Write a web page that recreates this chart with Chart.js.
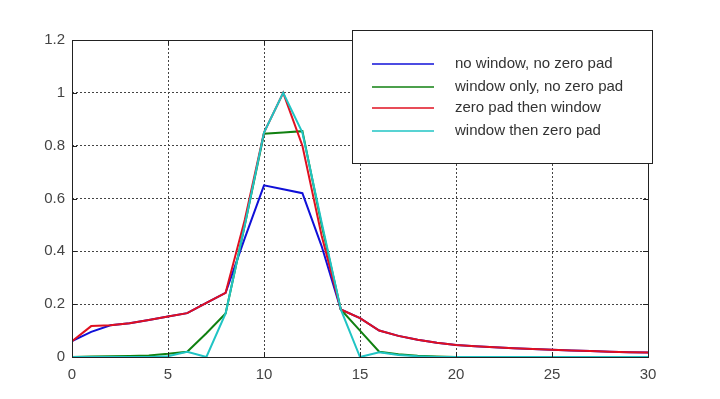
<!DOCTYPE html>
<html lang="en">
<head>
  <meta charset="UTF-8">
  <title>Window / zero pad comparison</title>
  <script src="https://cdn.jsdelivr.net/npm/chart.js"></script>
  <style>
    body { margin: 0; background: #fff; }
    #wrap { width: 720px; height: 399px; }
  </style>
</head>
<body>
<div id="wrap"><canvas id="chartCanvas" width="720" height="399"></canvas></div>
<script>
  // data
  const xs = [0,1,2,3,4,5,6,7,8,9,10,11,12,13,14,15,16,17,18,19,20,21,22,23,24,25,26,27,28,29,30];
  const noWindow   = [0.06,0.095,0.12,0.128,0.14,0.153,0.166,0.205,0.243,0.45,0.65,0.635,0.62,0.42,0.18,0.147,0.10,0.08,0.065,0.054,0.045,0.041,0.037,0.033,0.030,0.027,0.025,0.023,0.020,0.018,0.017];
  const windowOnly = [0,0.002,0.003,0.004,0.006,0.012,0.02,0.09,0.165,0.5,0.845,0.85,0.855,0.5,0.18,0.10,0.02,0.01,0.005,0.002,0,0,0,0,0,0,0,0,0,0,0];
  const padWindow  = [0.06,0.117,0.12,0.128,0.14,0.153,0.166,0.205,0.243,0.52,0.85,1.0,0.80,0.46,0.18,0.147,0.10,0.08,0.065,0.054,0.045,0.041,0.037,0.033,0.030,0.027,0.025,0.023,0.020,0.018,0.017];
  const windowPad  = [0,0,0,0,0,0.003,0.02,0,0.165,0.5,0.85,1.0,0.85,0.51,0.18,0,0.018,0.008,0.003,0,0,0,0,0,0,0,0,0,0,0,0];
  const seriesNames = ['no window, no zero pad', 'window only, no zero pad', 'zero pad then window', 'window then zero pad'];
  const seriesColors = ['#1010d8', '#108010', '#e01020', '#20c4c4'];
  const xTicks = [0, 5, 10, 15, 20, 25, 30];
  const yTicks = [0, 0.2, 0.4, 0.6, 0.8, 1, 1.2];

  const allSeries = [noWindow, windowOnly, padWindow, windowPad];

  const frame = {
    id: 'frame',
    afterDatasetsDraw(chart) {
      const ctx = chart.ctx;
      const a = chart.chartArea;
      const sx = chart.scales.x, sy = chart.scales.y;
      ctx.save();
      ctx.strokeStyle = '#222';
      ctx.lineWidth = 1;
      ctx.strokeRect(a.left + 0.5, a.top + 0.5, a.right - a.left, a.bottom - a.top);
      ctx.beginPath();
      xTicks.forEach(v => {
        const px = Math.round(sx.getPixelForValue(v)) + 0.5;
        ctx.moveTo(px, a.bottom); ctx.lineTo(px, a.bottom - 5);
        ctx.moveTo(px, a.top); ctx.lineTo(px, a.top + 5);
      });
      yTicks.forEach(v => {
        const py = Math.round(sy.getPixelForValue(v)) + 0.5;
        ctx.moveTo(a.left, py); ctx.lineTo(a.left + 5, py);
        ctx.moveTo(a.right, py); ctx.lineTo(a.right - 5, py);
      });
      ctx.stroke();

      // legend box
      const bx = 352, by = 30, bw = 300, bh = 133;
      ctx.fillStyle = '#fff';
      ctx.fillRect(bx, by, bw, bh);
      ctx.strokeRect(bx + 0.5, by + 0.5, bw, bh);
      const rows = [64, 87, 108, 131];
      ctx.font = '15px "Liberation Sans", Arial, sans-serif';
      ctx.textBaseline = 'middle';
      seriesNames.forEach((name, i) => {
        ctx.strokeStyle = seriesColors[i];
        ctx.lineWidth = 1.5;
        ctx.beginPath();
        ctx.moveTo(372, rows[i]); ctx.lineTo(434, rows[i]);
        ctx.stroke();
        ctx.fillStyle = '#333';
        ctx.fillText(name, 455, rows[i]);
      });
      ctx.restore();
    }
  };

  new Chart(document.getElementById('chartCanvas'), {
    type: 'line',
    data: {
      datasets: allSeries.map((vals, i) => ({
        label: seriesNames[i],
        data: xs.map((x, j) => ({ x: x, y: vals[j] })),
        borderColor: seriesColors[i],
        borderWidth: 2,
        pointRadius: 0,
        tension: 0,
        fill: false,
        order: allSeries.length - 1 - i   // later series drawn on top
      }))
    },
    options: {
      responsive: false,
      animation: false,
      layout: { padding: { left: 0, right: 72, top: 40, bottom: 12 } },
      plugins: { legend: { display: false }, tooltip: { enabled: false } },
      scales: {
        x: {
          type: 'linear',
          min: 0, max: 30,
          afterBuildTicks: s => { s.ticks = xTicks.map(v => ({ value: v })); },
          afterFit: s => { s.height = 30; },
          grid: { color: '#444', lineWidth: 1, drawTicks: false },
          border: { display: false, dash: [2, 2] },
          ticks: { padding: 9, color: '#444', font: { size: 15, family: '"Liberation Sans", Arial, sans-serif' }, maxRotation: 0 }
        },
        y: {
          min: 0, max: 1.2,
          afterBuildTicks: s => { s.ticks = yTicks.map(v => ({ value: v })); },
          afterFit: s => { s.width = 72; },
          grid: { color: '#444', lineWidth: 1, drawTicks: false },
          border: { display: false, dash: [2, 2] },
          ticks: { padding: 7, color: '#444', font: { size: 15, family: '"Liberation Sans", Arial, sans-serif' },
                   callback: v => String(Math.round(v * 10) / 10) }
        }
      }
    },
    plugins: [frame]
  });
</script>
</body>
</html>
